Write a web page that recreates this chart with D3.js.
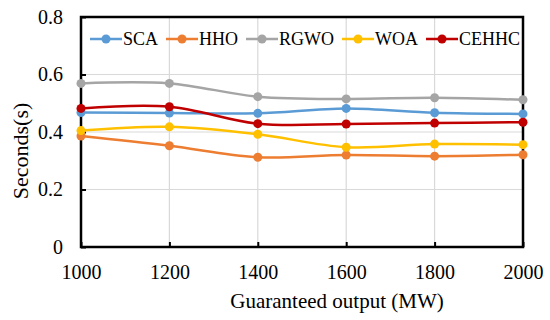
<!DOCTYPE html>
<html><head><meta charset="utf-8">
<script src="https://cdn.jsdelivr.net/npm/d3@7"></script>
</head><body style="margin:0">
<svg id="c" width="550" height="320"></svg>
<script>
const categories = [1000, 1200, 1400, 1600, 1800, 2000];
const seriesNames = ["SCA", "HHO", "RGWO", "WOA", "CEHHC"];
const SCA   = [0.468, 0.466, 0.465, 0.482, 0.467, 0.463];
const HHO   = [0.386, 0.352, 0.312, 0.320, 0.316, 0.321];
const RGWO  = [0.569, 0.569, 0.523, 0.515, 0.519, 0.512];
const WOA   = [0.405, 0.418, 0.392, 0.347, 0.358, 0.356];
const CEHHC = [0.482, 0.488, 0.429, 0.428, 0.431, 0.434];
const yTicks = [0, 0.2, 0.4, 0.6, 0.8];
const colors = ["#5B9BD5", "#ED7D31", "#A5A5A5", "#FFC000", "#C00000"];
const seriesValues = [SCA, HHO, RGWO, WOA, CEHHC];

const svg = d3.select("#c");
const L = 81, R = 523, T = 17, B = 247;
const x = d3.scaleLinear().domain([1000, 2000]).range([L, R]);
const y = d3.scaleLinear().domain([0, 0.8]).range([B, T]);

function serif(sel, size) {
  return sel.attr("font-family", "Tinos, 'Times New Roman', 'Liberation Serif', FreeSerif, serif")
    .attr("font-size", size).attr("fill", "#000");
}

// gridlines
svg.append("g").selectAll("line").data(yTicks.filter(d => d > 0 && d < 0.8)).join("line")
  .attr("x1", L).attr("x2", R).attr("y1", d => y(d)).attr("y2", d => y(d))
  .attr("stroke", "#d9d9d9").attr("stroke-width", 1.2);
svg.append("g").selectAll("line").data(categories.slice(1, -1)).join("line")
  .attr("x1", d => x(d)).attr("x2", d => x(d)).attr("y1", T).attr("y2", B)
  .attr("stroke", "#d9d9d9").attr("stroke-width", 1.2);

// axes
const yAxis = svg.append("g").attr("transform", `translate(${L},0)`)
  .call(d3.axisLeft(y).tickValues(yTicks).tickFormat(d => d === 0 ? "0" : d3.format(".1f")(d)).tickSize(-5).tickPadding(18));
const xAxis = svg.append("g").attr("transform", `translate(0,${B})`)
  .call(d3.axisBottom(x).tickValues(categories).tickFormat(d3.format("d")).tickSize(-5).tickPadding(18));
[yAxis, xAxis].forEach(g => {
  serif(g, 20);
  g.select(".domain").remove();
  g.selectAll(".tick line").attr("stroke", "#000").attr("stroke-width", 2);
  serif(g.selectAll("text"), 20);
});
xAxis.selectAll("text").attr("dy", "0.71em").attr("y", 18);

// border box
svg.append("rect").attr("x", L).attr("y", T).attr("width", R - L).attr("height", B - T)
  .attr("fill", "none").attr("stroke", "#000").attr("stroke-width", 2.5);

// lines
const line = d3.line().x((d, i) => x(categories[i])).y(d => y(d)).curve(d3.curveCatmullRom.alpha(0.5));
seriesValues.forEach((vals, si) => {
  svg.append("path").datum(vals).attr("d", line).attr("fill", "none")
    .attr("stroke", colors[si]).attr("stroke-width", 2.5);
  svg.append("g").selectAll("circle").data(vals).join("circle")
    .attr("cx", (d, i) => x(categories[i])).attr("cy", d => y(d)).attr("r", 4.5)
    .attr("fill", colors[si]);
});

// legend
const lg = svg.append("g");
let lx = 90; const ly = 39;
seriesNames.forEach((n, i) => {
  lg.append("line").attr("x1", lx).attr("x2", lx + 32).attr("y1", ly).attr("y2", ly)
    .attr("stroke", colors[i]).attr("stroke-width", 2.5);
  lg.append("circle").attr("cx", lx + 16).attr("cy", ly).attr("r", 4.5).attr("fill", colors[i]);
  const t = serif(lg.append("text").attr("x", lx + 33).attr("y", ly).attr("dy", "0.35em"), 18).text(n);
  lx += 33 + t.node().getComputedTextLength() + 8;
});

// axis titles
serif(svg.append("text").attr("x", 337).attr("y", 308).attr("text-anchor", "middle"), 21)
  .text("Guaranteed output (MW)");
serif(svg.append("text").attr("transform", "translate(20,151) rotate(-90)").attr("text-anchor", "middle")
  .attr("dy", "0.35em"), 22).text("Seconds(s)");
</script>
</body></html>
